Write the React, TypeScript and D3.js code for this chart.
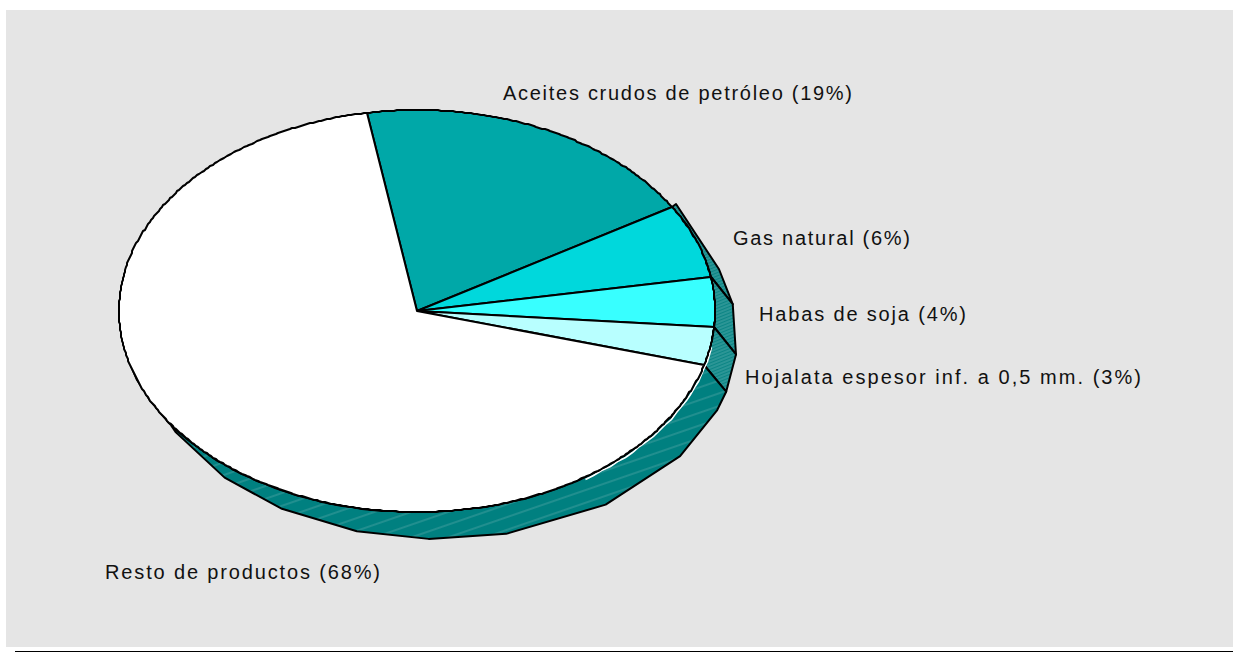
import React from "react";
import * as d3 from "d3";

const categories = [
  "Aceites crudos de petróleo",
  "Gas natural",
  "Habas de soja",
  "Hojalata espesor inf. a 0,5 mm.",
  "Resto de productos",
];
const shares = [19, 6, 4, 3, 68];
const sliceColors = ["#00a8a8", "#00d8dc", "#38ffff", "#b8ffff", "#ffffff"];
const labelX = [503, 733, 759, 745, 105];
const labelY = [100, 245, 321, 384, 579];
const labelWidth = [349, 177, 207, 396, 275];

// facets of the rim, in degrees clockwise from the top of the ellipse
const rimStops = [70, 111, 126, 146, 167, 182, 196, 212, 226, 242];
const rimStart = 59;
const rimEnd = 254;

const width = 1233;
const height = 652;
const cx = 417;
const cy = 311;
const rx = 298;
const ry = 201;
const depthX = 22;
const depthY = 27;

const rad = (deg: number) => (deg * Math.PI) / 180;
const deg = (r: number) => (r * 180) / Math.PI;

function topPoint(a: number): [number, number] {
  return [
    Math.round(cx + rx * Math.sin(rad(a))),
    Math.round(cy - ry * Math.cos(rad(a))),
  ];
}
function rimPoint(a: number): [number, number] {
  return [cx + depthX + rx * Math.sin(rad(a)), cy + depthY - ry * Math.cos(rad(a))];
}

export default function App() {
  const pie = d3
    .pie<number>()
    .sort(null)
    .startAngle(rad(-9.7))
    .endAngle(rad(350.3));
  const slices = pie(shares).map((s) => ({
    a0: deg(s.startAngle),
    a1: deg(s.endAngle),
  }));

  const line = d3.line();

  const arcPoints = (a0: number, a1: number, step: number) => {
    const n = Math.ceil((a1 - a0) / step);
    return d3.range(n + 1).map((i) => topPoint(a0 + ((a1 - a0) * i) / n));
  };

  const topPath = (a0: number, a1: number) =>
    line([[cx, cy], ...arcPoints(a0, a1, 0.6)])! + "Z";

  const sidePath = (a0: number, a1: number) => {
    const from = Math.max(a0, rimStart);
    const to = Math.min(a1, rimEnd);
    const inner = arcPoints(from, to, 2);
    const stops = rimStops.filter((s) => s > from && s < to);
    const [sx, sy] = topPoint(from);
    const outer: [number, number][] = [
      // the rim starts a little outside the top face
      from === rimStart ? [sx + 4, sy - 3] : rimPoint(from),
      ...stops.map(rimPoint),
      to === rimEnd ? topPoint(to) : rimPoint(to),
    ];
    return line([...inner, ...outer.reverse()])! + "Z";
  };

  return (
    <svg
      width={width}
      height={height}
      style={{ position: "absolute", left: 0, top: 0 }}
      fontFamily="'Liberation Sans', Arial, sans-serif"
    >
      <defs>
        <pattern id="hatchWide" width="40" height="12" patternUnits="userSpaceOnUse" patternTransform="rotate(-19)">
          <rect width="40" height="12" fill="#008080" />
          <line x1="0" y1="6" x2="40" y2="6" stroke="#52a6a6" strokeWidth="0.8" />
        </pattern>
        <pattern id="hatchFine" width="4" height="3" patternUnits="userSpaceOnUse" patternTransform="rotate(-22)">
          <rect width="4" height="3" fill="#0c8585" />
          <line x1="0" y1="1" x2="4" y2="1" stroke="#5aaeae" strokeWidth="0.8" />
        </pattern>
      </defs>
      <rect x={6} y={10} width={width - 6} height={637} fill="#e5e5e5" />
      <rect x={15} y={651} width={width - 15} height={1} fill="#000" />

      {slices.map((s, i) =>
        s.a1 <= rimStart ? null : (
          <path
            key={`side-${i}`}
            d={sidePath(s.a0, s.a1)}
            fill={i === slices.length - 1 ? "url(#hatchWide)" : "url(#hatchFine)"}
            stroke="#000"
            strokeWidth={2}
            strokeLinejoin="round"
          />
        )
      )}

      {/* thin light gap between the top face and the rim */}
      <path
        d={line(arcPoints(100, 146, 2))!}
        transform="translate(1.5,1.5)"
        fill="none"
        stroke="#fff"
        strokeWidth={1.6}
      />

      {slices.map((s, i) => (
        <path
          key={`top-${i}`}
          d={topPath(s.a0, s.a1)}
          fill={sliceColors[i]}
          stroke="#000"
          strokeWidth={2}
          strokeLinejoin="round"
        />
      ))}

      {categories.map((c, i) => (
        <text
          key={c}
          x={labelX[i]}
          y={labelY[i]}
          fontSize={20}
          textLength={labelWidth[i]}
          lengthAdjust="spacing"
          fill="#111"
        >
          {`${c} (${shares[i]}%)`}
        </text>
      ))}
    </svg>
  );
}
